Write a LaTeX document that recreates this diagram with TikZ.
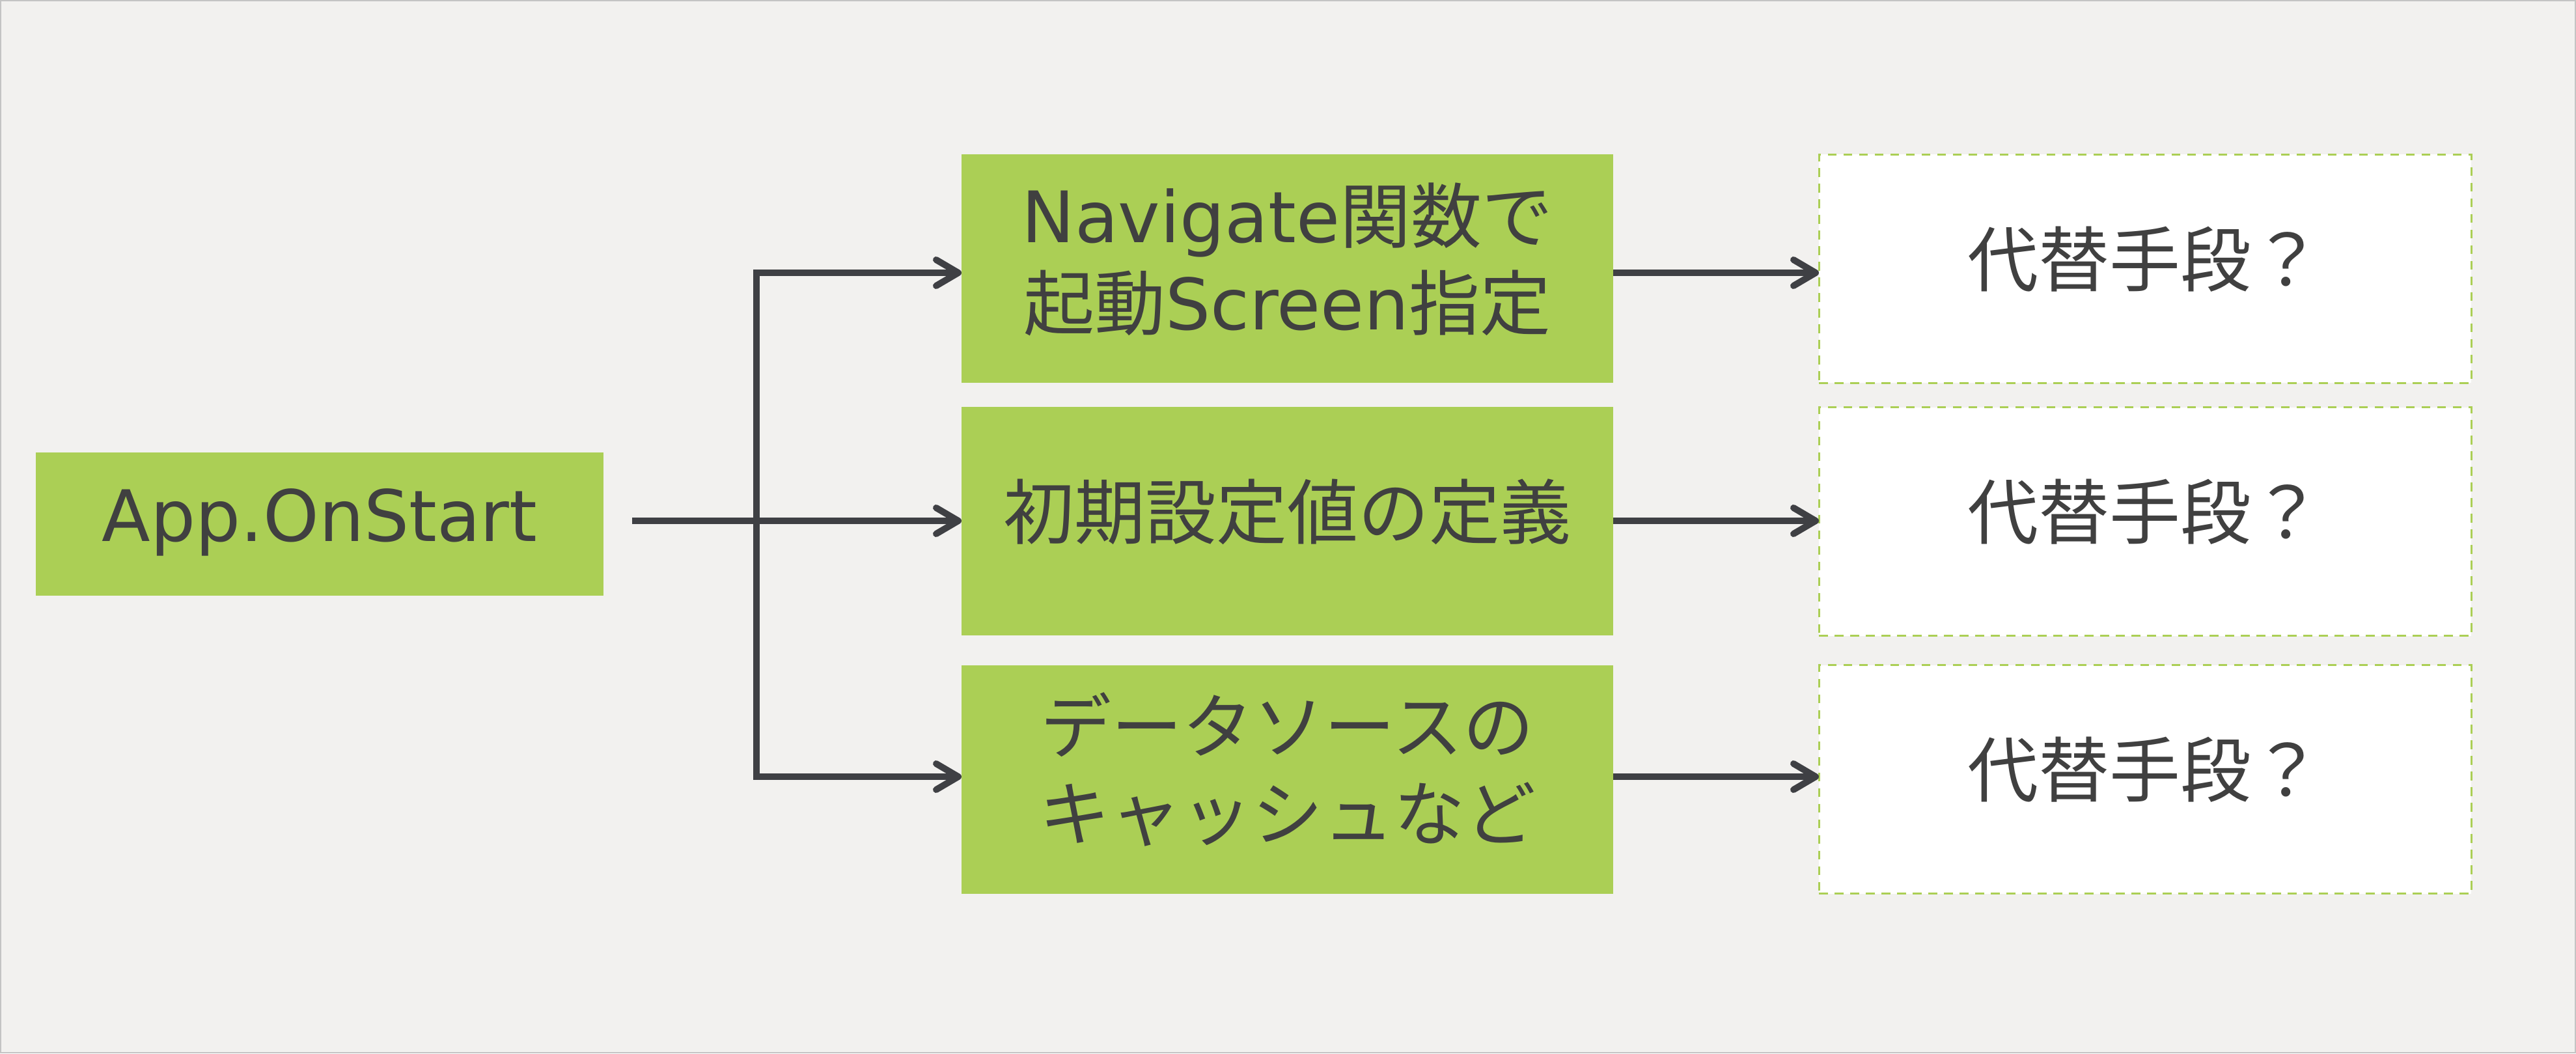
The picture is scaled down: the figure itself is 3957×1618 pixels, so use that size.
\documentclass[tikz,border=0pt]{standalone}
\usepackage{fontspec}
\setmainfont{DejaVu Sans}
\newfontfamily\jp{Noto Sans CJK JP}
\usetikzlibrary{arrows.meta}
\definecolor{bg}{HTML}{F2F1EF}
\definecolor{leaf}{HTML}{ABCF55}
\definecolor{ink}{HTML}{404040}
\definecolor{wire}{HTML}{3F4044}
\definecolor{frame}{HTML}{C4C4C4}
\newcommand{\lbl}[1]{\begin{tabular}{@{}c@{}}#1\end{tabular}}
\begin{document}
\begin{tikzpicture}[x=1pt,y=-1pt,
  every node/.style={font=\fontsize{109}{134}\selectfont, text=ink, inner sep=0pt, outer sep=0pt},
  greenbox/.style={fill=leaf, minimum width=1001pt, minimum height=351pt},
  appbox/.style={fill=leaf, minimum width=872pt, minimum height=220pt},
  altbox/.style={fill=white, draw=leaf, line width=3pt, dash pattern=on 13.5pt off 10.5pt, minimum width=1002pt, minimum height=351pt},
  conn/.style={draw=wire, line width=10pt, -{Straight Barb[length=34pt,width=40pt,line cap=round,line join=round]}},
  trunk/.style={draw=wire, line width=10pt, line cap=rect},
  ]
\fill[bg] (0,0) rectangle (3957,1618);
\draw[frame, line width=2pt] (1,1) rectangle (3956,1617);
\useasboundingbox (0,0) rectangle (3957,1618);

\node[appbox] (app) at (491,805) {\lbl{App.OnStart}};

\node[greenbox] (b1) at (1977.5,412.5) {\lbl{Navigate{\jp 関数で}\\{\jp 起動}Screen{\jp 指定}}};
\node[greenbox] (b2) at (1977.5,800.3) {\lbl{{\jp 初期設定値の定義}}};
\node[greenbox] (b3) at (1977.5,1197) {\lbl{{\jp データソースの}\\{\jp キャッシュなど}}};

\node[altbox] (d1) at (3295,412.5) {\lbl{{\jp 代替手段？}}};
\node[altbox] (d2) at (3295,801) {\lbl{{\jp 代替手段？}}};
\node[altbox] (d3) at (3295,1197) {\lbl{{\jp 代替手段？}}};

\coordinate (r1) at (1162,419);
\coordinate (r3) at (1162,1193);
\coordinate (m) at (971,800);

\draw[trunk] (r1) -- (r3);
\draw[conn] (r1) -- (r1 -| b1.west);
\draw[conn] (m) -- (m -| b2.west);
\draw[conn] (r3) -- (r3 -| b3.west);

\draw[conn] (b1.east |- r1) -- (d1.west |- r1);
\draw[conn] (b2.east |- m) -- (d2.west |- m);
\draw[conn] (b3.east |- r3) -- (d3.west |- r3);
\end{tikzpicture}
\end{document}
